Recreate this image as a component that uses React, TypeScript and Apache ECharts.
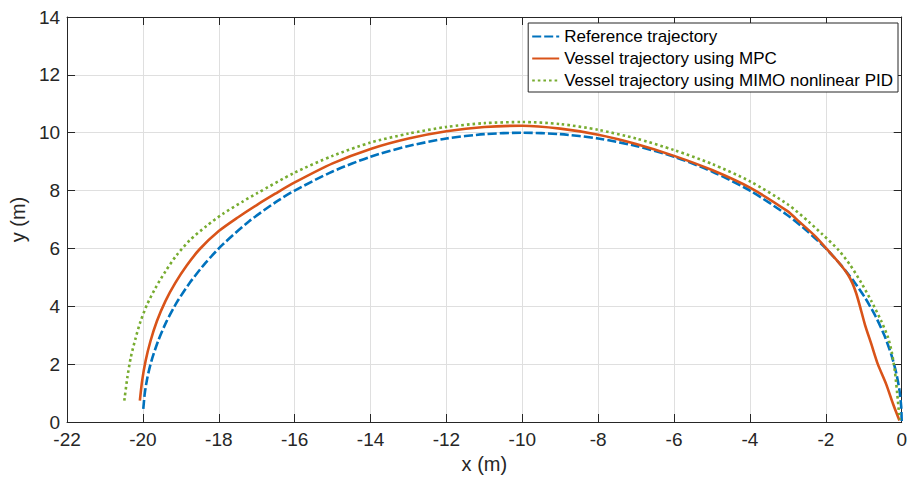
import React, { useEffect, useRef } from "react";
import * as echarts from "echarts";

// Reference circular path (x, y in metres)
const refX = [-19.99, -19.95, -19.88, -19.78, -19.6, -19.38, -19.1, -18.76, -18.35, -17.9, -17.2, -16.5, -16, -15, -14, -13, -12, -11, -10, -9, -8, -7, -6, -5, -4, -3, -2.5, -2, -1.6, -1.25, -0.95, -0.68, -0.45, -0.27, -0.14, -0.06, -0.015, 0];
const refY = [0.45, 1.0, 1.55, 2.09, 2.8, 3.47, 4.15, 4.82, 5.5, 6.13, 6.94, 7.6, 8.0, 8.66, 9.17, 9.54, 9.8, 9.95, 10.0, 9.95, 9.8, 9.54, 9.17, 8.66, 8.0, 7.14, 6.61, 6.0, 5.42, 4.84, 4.26, 3.63, 2.97, 2.31, 1.67, 1.1, 0.55, 0];

// Vessel path under MPC
const mpcX = [-20.08, -20.02, -19.93, -19.8, -19.63, -19.41, -19.15, -18.85, -18.5, -18.0, -17.5, -17.0, -16.5, -16, -15, -14, -13, -12, -11, -10, -9, -8, -7, -6, -5, -4, -3, -2.79, -2.27, -1.84, -1.6, -1.42, -1.3, -1.2, -1.1, -0.97, -0.8, -0.63, -0.41, -0.23, -0.06];
const mpcY = [0.74, 1.43, 2.11, 2.8, 3.49, 4.17, 4.8, 5.4, 5.98, 6.6, 7.07, 7.5, 7.9, 8.28, 8.94, 9.44, 9.8, 10.05, 10.2, 10.24, 10.14, 9.93, 9.61, 9.2, 8.71, 8.1, 7.28, 7.03, 6.41, 5.78, 5.42, 5.1, 4.8, 4.45, 4.0, 3.37, 2.69, 2.0, 1.31, 0.63, 0.05];

// Vessel path under MIMO nonlinear PID
const pidX = [-20.49, -20.41, -20.32, -20.19, -20.06, -19.89, -19.67, -19.41, -19.11, -18.76, -18.32, -17.89, -17.37, -17, -16, -15, -14, -13, -12, -11, -10, -9, -8, -7, -6, -5, -4, -3, -2.45, -2.1, -1.67, -1.36, -1.06, -0.8, -0.54, -0.36, -0.26, -0.18, -0.12, -0.07, -0.05];
const pidY = [0.74, 1.54, 2.23, 2.91, 3.49, 4.06, 4.63, 5.2, 5.77, 6.29, 6.78, 7.2, 7.62, 7.9, 8.62, 9.2, 9.66, 9.97, 10.2, 10.33, 10.37, 10.3, 10.1, 9.8, 9.4, 8.92, 8.32, 7.52, 6.92, 6.5, 5.95, 5.43, 4.8, 4.18, 3.49, 2.92, 2.4, 1.75, 1.0, 0.3, 0.08];

const seriesNames = [
  "Reference trajectory",
  "Vessel trajectory using MPC",
  "Vessel trajectory using MIMO nonlinear PID",
];

const xTicks = { min: -22, max: 0, interval: 2 };
const yTicks = { min: 0, max: 14, interval: 2 };

const FONT = "'Liberation Sans', Arial, Helvetica, sans-serif";
const AXIS_COLOR = "#262626";

const pairs = (xs: number[], ys: number[]) => xs.map((x, i) => [x, ys[i]]);

export default function App() {
  const ref = useRef<HTMLDivElement>(null);

  useEffect(() => {
    document.body.style.margin = "0";
    if (!ref.current) return;
    const chart = echarts.init(ref.current, null, { renderer: "svg" });

    const axisCommon = {
      axisLine: { show: true, onZero: false, lineStyle: { color: AXIS_COLOR, width: 1 } },
      axisTick: { show: true, inside: true, length: 8, lineStyle: { color: AXIS_COLOR } },
    };

    const lineSeries = (name: string, xs: number[], ys: number[], color: string, type: any, z: number) => ({
      name,
      type: "line",
      data: pairs(xs, ys),
      smooth: 0.25,
      symbol: "none",
      showSymbol: false,
      color,
      lineStyle: { color, width: 2.6, type },
      z,
    });

    chart.setOption({
      animation: false,
      backgroundColor: "#ffffff",
      grid: { left: 59, right: 6, top: 17, bottom: 54, containLabel: false },
      legend: {
        orient: "vertical",
        right: 12,
        top: 23,
        padding: [5, 5, 3, 3],
        itemGap: 5,
        itemWidth: 27,
        itemHeight: 14,
        borderColor: AXIS_COLOR,
        borderWidth: 1,
        backgroundColor: "#ffffff",
        itemStyle: { opacity: 0 },
        textStyle: { fontFamily: FONT, fontSize: 17, color: "#000" },
        data: seriesNames,
      },
      xAxis: [
        {
          type: "value",
          ...xTicks,
          ...axisCommon,
          name: "x (m)",
          nameLocation: "middle",
          nameGap: 32,
          nameTextStyle: { fontFamily: FONT, fontSize: 20, color: AXIS_COLOR },
          axisLabel: { fontFamily: FONT, fontSize: 19, color: AXIS_COLOR, margin: 8 },
          splitLine: { show: true, lineStyle: { color: "#dfdfdf", width: 1 } },
        },
        {
          type: "value",
          position: "top",
          ...xTicks,
          ...axisCommon,
          axisLabel: { show: false },
          splitLine: { show: false },
        },
      ],
      yAxis: [
        {
          type: "value",
          ...yTicks,
          ...axisCommon,
          name: "y (m)",
          nameLocation: "middle",
          nameGap: 33,
          nameTextStyle: { fontFamily: FONT, fontSize: 20, color: AXIS_COLOR },
          axisLabel: { fontFamily: FONT, fontSize: 19, color: AXIS_COLOR, margin: 7 },
          splitLine: { show: true, lineStyle: { color: "#dfdfdf", width: 1 } },
        },
        {
          type: "value",
          position: "right",
          ...yTicks,
          ...axisCommon,
          axisLabel: { show: false },
          splitLine: { show: false },
        },
      ],
      series: [
        lineSeries(seriesNames[0], refX, refY, "#0072BD", [9, 3], 3),
        lineSeries(seriesNames[1], mpcX, mpcY, "#D95319", "solid", 4),
        lineSeries(seriesNames[2], pidX, pidY, "#77AC30", [2.6, 3], 5),
      ],
    });

    return () => chart.dispose();
  }, []);

  return <div ref={ref} style={{ width: 910, height: 479 }} />;
}
